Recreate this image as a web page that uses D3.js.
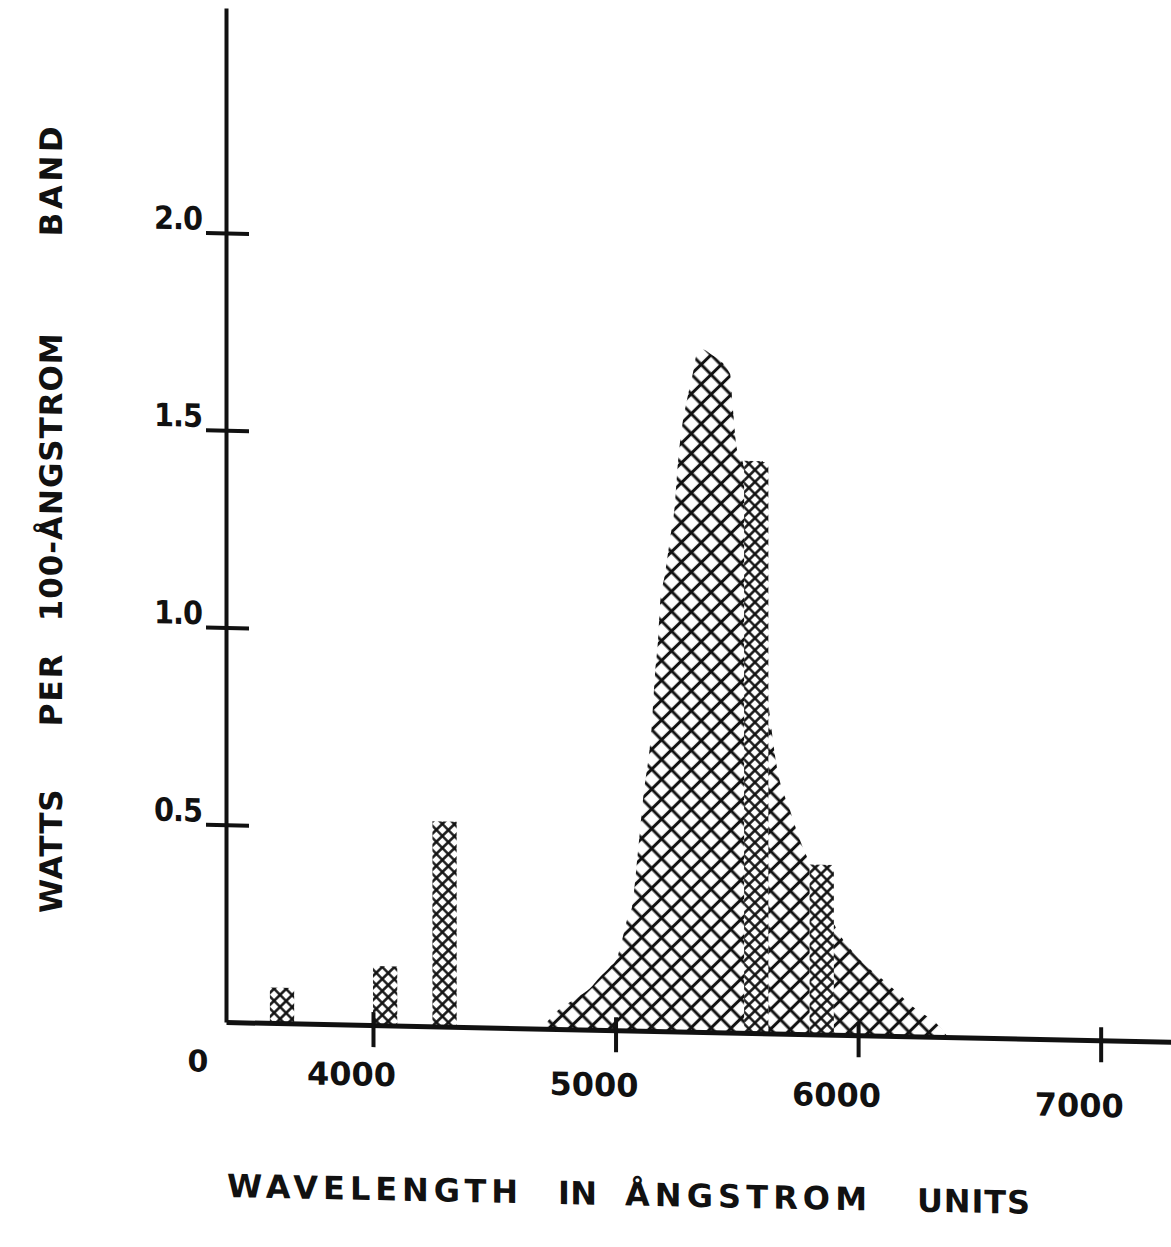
<!DOCTYPE html>
<html>
<head>
<meta charset="utf-8">
<style>
body { margin: 0; background: #fff; }
svg { display: block; }
text { font-family: "DejaVu Sans", sans-serif; font-weight: bold; fill: #111; }
.axis path, .axis line { stroke: #111; }
</style>
<script src="https://d3js.org/d3.v7.min.js"></script>
</head>
<body>
<svg id="chart" width="1171" height="1247"></svg>
<script>
// tick labels
var xTicks = [4000, 5000, 6000, 7000];
var yTicks = [0.5, 1.0, 1.5, 2.0];

// continuous spectrum (wavelength in angstrom, watts per 100-A band)
var curveWave  = [4697, 4742, 4845, 4895, 4936, 4977, 5006, 5027, 5047, 5068, 5093, 5113, 5150, 5163, 5175, 5183, 5204, 5224, 5245, 5257, 5274, 5294, 5319, 5336, 5362, 5389, 5472, 5484, 5500, 5525, 5628, 5665, 5719, 5760, 5801, 5913, 6008, 6119, 6226, 6337, 6370];
var curveWatts = [0, 0.035, 0.082, 0.105, 0.134, 0.16, 0.183, 0.229, 0.28, 0.313, 0.458, 0.585, 0.78, 0.907, 0.99, 1.075, 1.16, 1.245, 1.339, 1.44, 1.532, 1.60, 1.67, 1.72, 1.73, 1.72, 1.67, 1.58, 1.48, 1.445, 0.845, 0.676, 0.567, 0.492, 0.433, 0.266, 0.191, 0.134, 0.075, 0.025, 0];

// mercury lines, drawn as 100-angstrom bands
var lineStart = [3575, 4000, 4245, 5530, 5800];
var lineWatts = [0.09, 0.15, 0.52, 1.45, 0.43];
var bandWidth = 100;

// axis titles, word by word
var yTitleWords = ["WATTS", "PER", "100-ÅNGSTROM", "BAND"];
var xTitleWords = ["WAVELENGTH", "IN", "ÅNGSTROM", "UNITS"];

var margin = {top: 8, left: 226};
var width = 945, height = 1014;

var svg = d3.select("#chart");

var defs = svg.append("defs");
function hatch(id, size, sw) {
  var p = defs.append("pattern")
    .attr("id", id)
    .attr("patternUnits", "userSpaceOnUse")
    .attr("width", size).attr("height", size)
    .attr("patternTransform", "rotate(45)");
  p.append("path")
    .attr("d", "M0," + size / 2 + "H" + size + "M" + size / 2 + ",0V" + size)
    .attr("stroke", "#111").attr("stroke-width", sw).attr("fill", "none");
}
hatch("hatchBig", 14, 3);
hatch("hatchSmall", 8.5, 2.5);

// whole sheet is a little tilted in the scan
var page = svg.append("g")
  .attr("transform", "translate(226,0) skewY(1.2) translate(-226,0)");

var g = page.append("g")
  .attr("transform", "translate(" + margin.left + "," + margin.top + ")");

var x = d3.scaleLinear().domain([3394, 7290]).range([0, width]);
var y = d3.scaleLinear().domain([0, 2.57]).range([height, 0]);

var curveData = curveWave.map(function(w, i) { return {w: w, v: curveWatts[i]}; });

var area = d3.area()
  .x(function(d) { return x(d.w); })
  .y0(y(0))
  .y1(function(d) { return y(d.v); })
  .curve(d3.curveMonotoneX);

g.append("path")
  .datum(curveData)
  .attr("d", area)
  .attr("fill", "url(#hatchBig)");

var lines = lineStart.map(function(s, i) { return {s: s, v: lineWatts[i]}; });

var bars = g.selectAll(".band").data(lines).enter().append("g").attr("class", "band");
bars.append("rect")
  .attr("x", function(d) { return x(d.s); })
  .attr("y", function(d) { return y(d.v); })
  .attr("width", function(d) { return x(d.s + bandWidth) - x(d.s); })
  .attr("height", function(d) { return y(0) - y(d.v); })
  .attr("fill", "#fff");
bars.append("rect")
  .attr("x", function(d) { return x(d.s); })
  .attr("y", function(d) { return y(d.v); })
  .attr("width", function(d) { return x(d.s + bandWidth) - x(d.s); })
  .attr("height", function(d) { return y(0) - y(d.v); })
  .attr("fill", "url(#hatchSmall)");

// x axis
var xAxis = d3.axisBottom(x).tickValues(xTicks).tickSize(20).tickSizeOuter(0)
  .tickFormat(d3.format("d"));
var gx = g.append("g").attr("class", "axis")
  .attr("transform", "translate(0," + height + ")")
  .call(xAxis);
gx.select(".domain").attr("stroke-width", 5);
gx.selectAll(".tick line").attr("y1", -13).attr("y2", 22).attr("stroke-width", 4);
gx.selectAll(".tick text")
  .attr("y", function(d, i) { return 38 + i * 5.3; }).attr("dx", -22)
  .style("font-size", "32px").style("font-family", "'DejaVu Sans', sans-serif").style("font-weight", "bold")
  .attr("fill", "#111");

// y axis
var yAxis = d3.axisLeft(y).tickValues(yTicks).tickSize(20).tickSizeOuter(0)
  .tickFormat(d3.format(".1f"));
var gy = g.append("g").attr("class", "axis").call(yAxis);
gy.select(".domain").attr("stroke-width", 4);
gy.selectAll(".tick line").attr("x1", 23).attr("stroke-width", 4);
gy.selectAll(".tick text")
  .attr("x", -24).attr("dy", "-0.1em")
  .style("font-size", "32px").style("letter-spacing", "-1px")
  .style("font-family", "'DejaVu Sans Condensed', 'DejaVu Sans', sans-serif").style("font-weight", "bold")
  .attr("fill", "#111");

g.append("text")
  .attr("x", -28).attr("y", height + 50)
  .attr("text-anchor", "middle")
  .style("font-size", "30px")
  .text("0");

// y title: each word spans a stretch of the axis (screen y from..to)
var yWordSpan = [[793, 917], [658, 730], [337, 625], [130, 240]];
var yt = page.append("g").attr("transform", "translate(62,0) rotate(-90)");
yt.selectAll("text").data(yTitleWords).enter().append("text")
  .attr("x", function(d, i) { return -yWordSpan[i][1]; })
  .attr("y", 0)
  .attr("textLength", function(d, i) { return yWordSpan[i][1] - yWordSpan[i][0]; })
  .attr("lengthAdjust", "spacing")
  .style("font-size", "31px")
  .text(function(d) { return d; });

// x title
var xWordSpan = [[227, 518], [558, 597], [625, 867], [917, 1030]];
page.selectAll(".xtitle").data(xTitleWords).enter().append("text")
  .attr("class", "xtitle")
  .attr("x", function(d, i) { return xWordSpan[i][0]; })
  .attr("y", 1197)
  .attr("textLength", function(d, i) { return xWordSpan[i][1] - xWordSpan[i][0]; })
  .attr("lengthAdjust", "spacing")
  .style("font-size", "32px")
  .text(function(d) { return d; });
</script>
</body>
</html>
